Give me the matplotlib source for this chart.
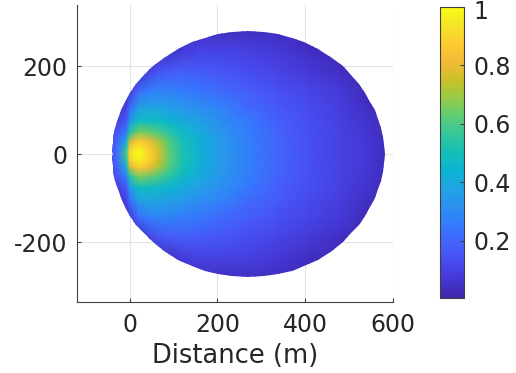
import numpy as np
import matplotlib
matplotlib.use("Agg")
import matplotlib.pyplot as plt
import matplotlib.transforms as mtransforms
from matplotlib.colors import LinearSegmentedColormap
from matplotlib.patches import Polygon

# ---------------- data ----------------
x_nodes = [-50, -30, -8, 0, 10, 20, 30, 45, 65, 90, 120, 160, 210, 270, 340, 410, 480, 540, 600]
y_nodes_upper = [0, 15, 30, 50, 75, 105, 145, 190, 240, 290]

# field values, one row per y node (upper half, the field is mirror-symmetric about y=0)
row_y0 = [0.12, 0.21, 0.58, 0.90, 0.98, 1.00, 0.97, 0.89, 0.77, 0.63, 0.52, 0.43, 0.345, 0.27, 0.195, 0.142, 0.10, 0.071, 0.02]
row_y15 = [0.12, 0.20, 0.52, 0.85, 0.93, 0.95, 0.93, 0.87, 0.755, 0.625, 0.515, 0.428, 0.345, 0.27, 0.195, 0.142, 0.10, 0.071, 0.02]
row_y30 = [0.11, 0.18, 0.40, 0.72, 0.81, 0.86, 0.85, 0.80, 0.71, 0.605, 0.505, 0.425, 0.343, 0.268, 0.193, 0.141, 0.10, 0.067, 0.02]
row_y50 = [0.10, 0.15, 0.27, 0.52, 0.60, 0.66, 0.655, 0.635, 0.60, 0.54, 0.475, 0.405, 0.33, 0.262, 0.19, 0.139, 0.098, 0.064, 0.02]
row_y75 = [0.08, 0.09, 0.16, 0.33, 0.44, 0.49, 0.49, 0.485, 0.475, 0.45, 0.41, 0.365, 0.305, 0.25, 0.18, 0.132, 0.094, 0.057, 0.02]
row_y105 = [0.06, 0.06, 0.10, 0.22, 0.28, 0.36, 0.385, 0.385, 0.38, 0.365, 0.345, 0.31, 0.275, 0.213, 0.165, 0.123, 0.087, 0.046, 0.018]
row_y145 = [0.05, 0.05, 0.05, 0.06, 0.13, 0.20, 0.23, 0.257, 0.276, 0.27, 0.26, 0.24, 0.206, 0.175, 0.139, 0.106, 0.076, 0.025, 0.015]
row_y190 = [0.04, 0.04, 0.04, 0.04, 0.04, 0.04, 0.045, 0.10, 0.145, 0.168, 0.178, 0.168, 0.155, 0.13, 0.102, 0.077, 0.039, 0.02, 0.015]
row_y240 = [0.03, 0.03, 0.03, 0.03, 0.03, 0.03, 0.03, 0.03, 0.03, 0.035, 0.073, 0.096, 0.10, 0.09, 0.066, 0.036, 0.02, 0.015, 0.015]
row_y290 = [0.02, 0.02, 0.02, 0.02, 0.02, 0.02, 0.02, 0.02, 0.02, 0.02, 0.025, 0.03, 0.03, 0.03, 0.03, 0.025, 0.02, 0.015, 0.015]

# outline of the covered region (upper half, right -> left), mirrored for the lower half
boundary_x_upper = [581, 580, 577, 572, 566, 558, 548, 536, 522, 505, 485, 460, 429, 398, 369, 338, 306, 270,
                    234, 202, 171, 142, 111, 79, 54, 33, 15, 0, -11, -20, -27, -33, -37, -39, -40, -39.5, -38.5]
boundary_y_upper = [0, 20, 40, 60, 80, 100, 120, 140, 160, 180, 200, 220, 240, 255, 265, 273, 278, 280,
                    278, 273, 265, 255, 240, 220, 200, 180, 160, 140, 120, 100, 80, 60, 40, 25, 12, 5, 0]

x_ticks = [0, 200, 400, 600]
x_tick_labels = ["0", "200", "400", "600"]
y_ticks = [-200, 0, 200]
y_tick_labels = ["-200", "0", "200"]
cbar_ticks = [0.2, 0.4, 0.6, 0.8, 1.0]
cbar_tick_labels = ["0.2", "0.4", "0.6", "0.8", "1"]
x_label = "Distance (m)"

# ---------------- colormap (parula-like) ----------------
parula_anchors = [
    (0.2422, 0.1504, 0.6603), (0.2704, 0.2138, 0.8346), (0.2813, 0.2985, 0.9397),
    (0.2710, 0.3860, 0.9898), (0.2006, 0.4803, 0.9906), (0.1716, 0.5655, 0.9393),
    (0.1288, 0.6408, 0.8910), (0.0433, 0.7039, 0.8242), (0.0770, 0.7468, 0.7224),
    (0.2061, 0.7808, 0.6065), (0.3671, 0.8021, 0.4563), (0.5886, 0.7913, 0.2833),
    (0.7945, 0.7554, 0.1570), (0.9523, 0.7284, 0.2237), (0.9938, 0.7974, 0.1974),
    (0.9601, 0.8963, 0.1507), (0.9769, 0.9839, 0.0805),
]
parula = LinearSegmentedColormap.from_list("parula_like", parula_anchors, N=256)

# ---------------- build arrays ----------------
rows_upper = np.array([row_y0, row_y15, row_y30, row_y50, row_y75, row_y105,
                       row_y145, row_y190, row_y240, row_y290])
ys_upper = np.array(y_nodes_upper, dtype=float)
ys_full = np.concatenate([-ys_upper[:0:-1], ys_upper])
vals_full = np.vstack([rows_upper[:0:-1], rows_upper])
X, Y = np.meshgrid(np.array(x_nodes, dtype=float), ys_full)

bx = np.concatenate([boundary_x_upper, boundary_x_upper[-2:0:-1]])
by = np.concatenate([boundary_y_upper, [-v for v in boundary_y_upper[-2:0:-1]]])

# ---------------- figure ----------------
fig = plt.figure(figsize=(5.16, 3.73), dpi=100)
ax = fig.add_axes([77 / 516, 1 - 302 / 373, (393 - 77) / 516, (302 - 5) / 373])
cax = fig.add_axes([440 / 516, 1 - 298 / 373, 24 / 516, (298 - 7) / 373])

text_color = "#262626"
tick_fs = 17

ax.set_axisbelow(True)
ax.grid(True, color="#e3e3e3", linewidth=0.8)

mesh = ax.pcolormesh(X, Y, vals_full, shading="gouraud", cmap=parula,
                     vmin=0.0035, vmax=1.0, zorder=2)
clip = Polygon(np.column_stack([bx, by]), closed=True, transform=ax.transData,
               facecolor="none", edgecolor="none")
ax.add_patch(clip)
mesh.set_clip_path(clip)

ax.set_xlim(-120, 600)
ax.set_ylim(-336.5, 340)
ax.set_xticks(x_ticks)
ax.set_xticklabels(x_tick_labels)
ax.set_yticks(y_ticks)
ax.set_yticklabels(y_tick_labels)
ax.tick_params(direction="in", length=3, width=0.8, colors="#404040",
               labelcolor=text_color, labelsize=tick_fs)
ax.tick_params(axis="x", pad=8)
ax.tick_params(axis="y", pad=7)
for side in ("top", "right"):
    ax.spines[side].set_visible(False)
for side in ("left", "bottom"):
    ax.spines[side].set_color("#404040")
    ax.spines[side].set_linewidth(0.8)
ax.set_xlabel(x_label, fontsize=18.5, color=text_color, labelpad=4)

cb = fig.colorbar(mesh, cax=cax, ticks=cbar_ticks)
cb.set_ticklabels(cbar_tick_labels)
cb.outline.set_edgecolor("#404040")
cb.outline.set_linewidth(0.8)
cax.tick_params(direction="in", length=3, width=0.8, colors="#404040",
                labelcolor=text_color, labelsize=tick_fs, pad=6.5)

# nudge the top colorbar label slightly down so it stays inside the figure
fig.canvas.draw()
top_label = cax.yaxis.get_ticklabels()[-1]
top_label.set_transform(top_label.get_transform() +
                        mtransforms.ScaledTranslation(0, -2.5 / 100, fig.dpi_scale_trans))

fig.savefig("out.png", dpi=100)
